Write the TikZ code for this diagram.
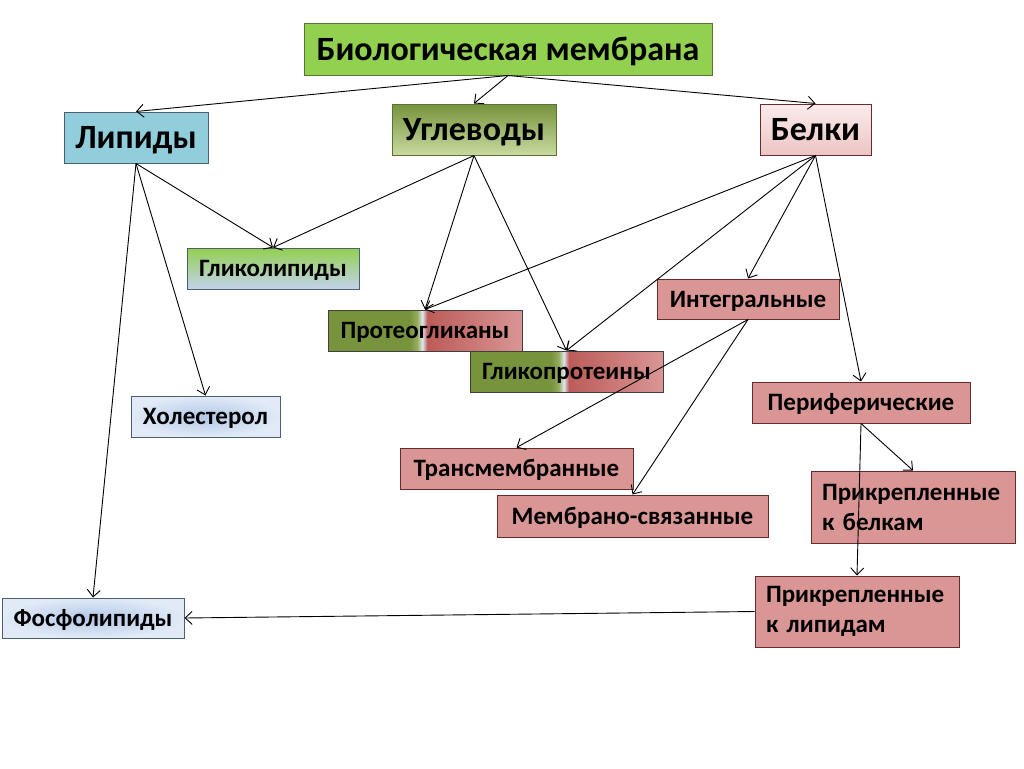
\documentclass[tikz,border=0pt]{standalone}
\usepackage{fontspec}
\setmainfont{Carlito}
\usetikzlibrary{arrows.meta}
\definecolor{mgreen}{RGB}{146,208,80}
\definecolor{gborder}{RGB}{90,115,50}
\definecolor{lipblue}{RGB}{146,205,220}
\definecolor{bborder}{RGB}{75,95,115}
\definecolor{olive}{RGB}{119,147,60}
\definecolor{olivelight}{RGB}{200,218,160}
\definecolor{pinkred}{RGB}{217,150,148}
\definecolor{rborder}{RGB}{100,45,43}
\definecolor{bluelight}{RGB}{225,234,246}
\definecolor{bluemid}{RGB}{178,200,232}
\definecolor{pinktop}{RGB}{251,236,236}
\definecolor{pinkbot}{RGB}{236,196,195}
\definecolor{gpale}{RGB}{215,232,215}
\definecolor{gblue}{RGB}{196,210,238}
\definecolor{gola}{RGB}{150,172,95}
\definecolor{gwhite}{RGB}{222,232,236}
\definecolor{gred}{RGB}{188,92,90}
\pgfdeclarehorizontalshading{glyco}{100bp}{color(0bp)=(olive); color(25bp)=(olive); color(46bp)=(olive); color(48bp)=(gola); color(49.3bp)=(gwhite); color(50.6bp)=(gred); color(75bp)=(pinkred); color(100bp)=(pinkred)}
\begin{document}
\begin{tikzpicture}[x=1pt,y=-1pt,
  box/.style={draw, line width=1pt, inner sep=0pt, text=black,
    font=\bfseries\fontsize{25}{30}\selectfont, text height=19pt, text depth=3pt},
  bigbox/.style={box, font=\bfseries\fontsize{34}{38}\selectfont, text height=26pt, text depth=4pt},
  redbox/.style={box, fill=pinkred, draw=rborder},
  bluebox/.style={box, draw=bborder, inner color=bluemid, outer color=bluelight},
  twoline/.style={redbox, align=left, text height=, text depth=, font=\bfseries\fontsize{25}{30}\selectfont},
  arr/.style={-{Straight Barb[length=7pt,width=13pt]}, line width=0.9pt, black}
]
\useasboundingbox (0,0) rectangle (1024,768);

\node[bigbox, fill=mgreen, draw=gborder, minimum width=408, minimum height=51] (bio) at (508,49.5) {Биологическая мембрана};
\node[bigbox, fill=lipblue, draw=bborder, minimum width=144, minimum height=51] (lip) at (136,137.5) {Липиды};
\node[bigbox, top color=olive, bottom color=olivelight, draw=gborder, minimum width=164, minimum height=51] (ugl) at (474,129.5) {Углеводы};
\node[bigbox, top color=pinktop, bottom color=pinkbot, draw=rborder, minimum width=111, minimum height=51] (bel) at (815.5,129.5) {Белки};

\node[box, top color=mgreen, middle color=gpale, bottom color=gblue, draw=bborder, minimum width=172, minimum height=41] (glip) at (273,268.5) {Гликолипиды};
\node[box, shading=glyco, draw=black!75, minimum width=194, minimum height=41] (prot) at (425,330.5) {Протеогликаны};
\node[box, shading=glyco, draw=black!75, minimum width=193, minimum height=41] (gpro) at (566.5,371.5) {Гликопротеины};
\node[redbox, minimum width=182, minimum height=40] (int) at (748,299) {Интегральные};
\node[bluebox, minimum width=149, minimum height=41] (hol) at (205.5,416.5) {Холестерол};
\node[redbox, minimum width=218, minimum height=41] (per) at (861,402.5) {Периферические};
\node[redbox, minimum width=233, minimum height=41] (trans) at (516.5,468.5) {Трансмембранные};
\node[redbox, minimum width=271, minimum height=42] (memb) at (632.5,516) {Мембрано-связанные};
\node[twoline, minimum width=204, minimum height=72, text width=182] (pbel) at (913,507) {Прикрепленные\\к белкам};
\node[twoline, minimum width=204, minimum height=71, text width=182] (plip) at (857,611.5) {Прикрепленные\\к липидам};
\node[bluebox, minimum width=182, minimum height=40] (fos) at (93,618) {Фосфолипиды};

\draw[arr] (bio.south) -- (lip.north);
\draw[arr] (bio.south) -- (ugl.north);
\draw[arr] (bio.south) -- (bel.north);
\draw[arr] (lip.south) -- (glip.north);
\draw[arr] (lip.south) -- (hol.north);
\draw[arr] (lip.south) -- (fos.north);
\draw[arr] (ugl.south) -- (glip.north);
\draw[arr] (ugl.south) -- (prot.north);
\draw[arr] (ugl.south) -- (gpro.north);
\draw[arr] (bel.south) -- (prot.north);
\draw[arr] (bel.south) -- (gpro.north);
\draw[arr] (bel.south) -- (int.north);
\draw[arr] (bel.south) -- (per.north);
\draw[arr] (int.south) -- (trans.north);
\draw[arr] (int.south) -- (memb.north);
\draw[arr] (per.south) -- (pbel.north);
\draw[arr] (per.south) -- (plip.north);
\draw[arr] (plip.west) -- (fos.east);
\end{tikzpicture}
\end{document}
